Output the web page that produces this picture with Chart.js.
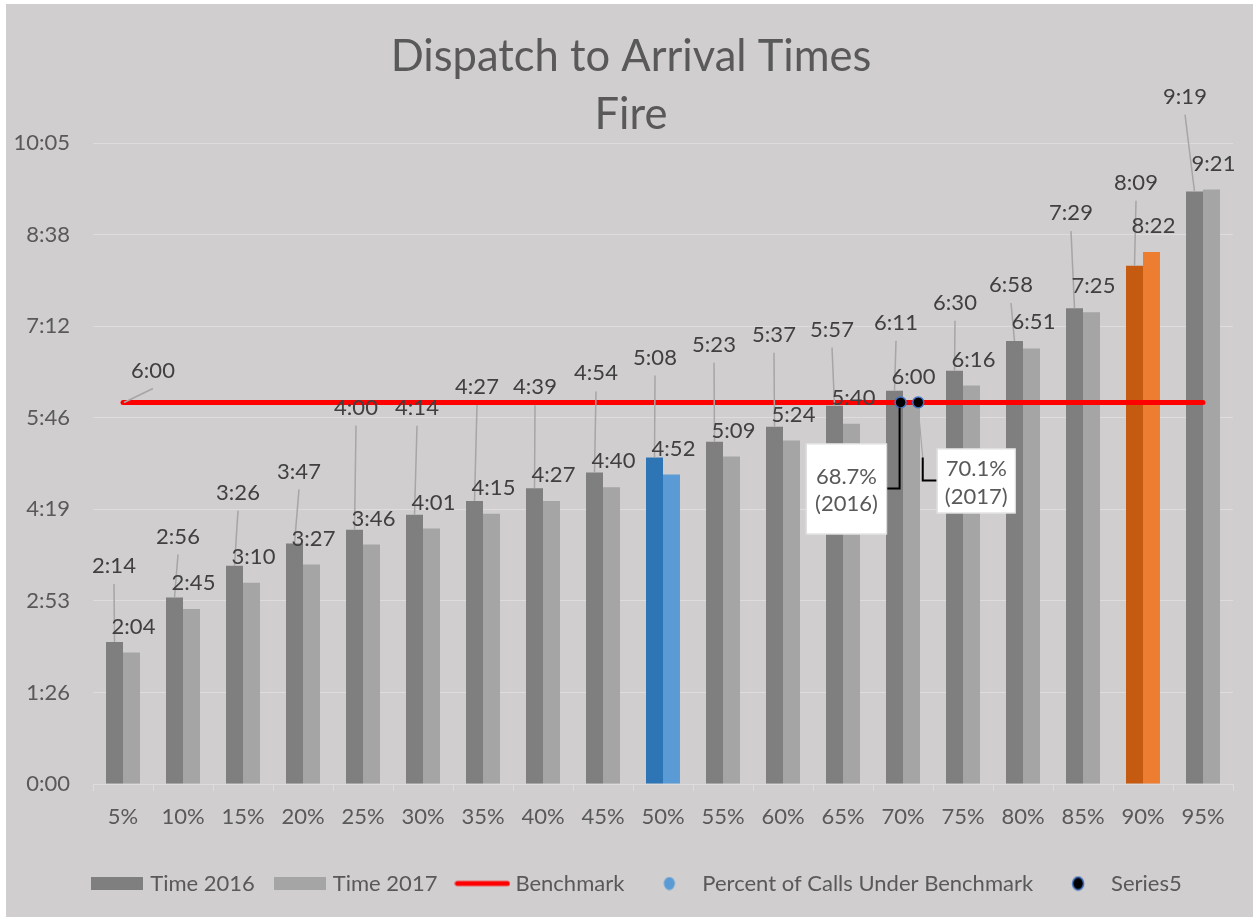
<!DOCTYPE html>
<html>
<head>
<meta charset="utf-8">
<script src="https://cdn.jsdelivr.net/npm/chart.js@4/dist/chart.umd.min.js"></script>
<style>
html,body{margin:0;padding:0;background:#ffffff;}
#wrap{width:1253px;height:917px;}
</style>
</head>
<body>
<div id="wrap"><canvas id="c" width="1253" height="917"></canvas></div>
<script>
// ---------- data ----------
const categories = ['5%','10%','15%','20%','25%','30%','35%','40%','45%','50%','55%','60%','65%','70%','75%','80%','85%','90%','95%'];
const time2016 = ['2:14','2:56','3:26','3:47','4:00','4:14','4:27','4:39','4:54','5:08','5:23','5:37','5:57','6:11','6:30','6:58','7:29','8:09','9:19'];
const time2017 = ['2:04','2:45','3:10','3:27','3:46','4:01','4:15','4:27','4:40','4:52','5:09','5:24','5:40','6:00','6:16','6:51','7:25','8:22','9:21'];
const benchmarkTime = '6:00';
const yTickLabels = ['0:00','1:26','2:53','4:19','5:46','7:12','8:38','10:05'];
const yStepSeconds = 86.4;            // 0.001 day
const pctUnderBenchmark = ['68.7%','70.1%'];
const pctYears = ['(2016)','(2017)'];
const series5X = [69.8, 71.27];       // position in percentile units (5% .. 95%)

// ---------- helpers ----------
const toSec = s => { const p = s.split(':').map(Number); return p[0]*60 + p[1]; };
const v2016 = time2016.map(toSec);
const v2017 = time2017.map(toSec);
const vBench = toSec(benchmarkTime);
// percentile -> fractional category index on the category axis
const pctToIndex = p => (p - parseFloat(categories[0])) / (parseFloat(categories[1]) - parseFloat(categories[0]));
const series5Points = series5X.map(p => ({ x: pctToIndex(p), y: vBench }));

const highlight = { '50%': ['#2e75b6', '#5b9bd5'], '90%': ['#c55a11', '#ed7d31'] };
const col2016 = categories.map(c => highlight[c] ? highlight[c][0] : '#7f7f7f');
const col2017 = categories.map(c => highlight[c] ? highlight[c][1] : '#a5a5a5');

// label placement (pixel offsets for the moved 2016 labels)
const lift16  = [76,61,73,72,122,107,114,101,99,100,97,92,76,68,68,56,95,83,95];
const shift16 = [-0.5,3.5,3.5,4.5,1.5,2.5,2.5,0.5,1.5,0.5,-0.5,-0.5,-2.5,1.5,0.5,-3.5,-3.5,1.5,-9.5];

const FONT = 'Lato';
const FS = 22;
const TXT = '#595959';

function mk(w, h, draw) { const c = document.createElement('canvas'); c.width = w; c.height = h; draw(c.getContext('2d')); return c; }
const legendImgs = [
  mk(52, 13, g => { g.fillStyle = '#7f7f7f'; g.fillRect(0, 0, 52, 13); }),
  mk(52, 13, g => { g.fillStyle = '#a5a5a5'; g.fillRect(0, 0, 52, 13); }),
  mk(56, 8, g => { g.strokeStyle = '#ff0000'; g.lineWidth = 5; g.lineCap = 'round'; g.beginPath(); g.moveTo(3, 4); g.lineTo(53, 4); g.stroke(); }),
  mk(14, 14, g => { g.fillStyle = '#5b9bd5'; g.beginPath(); g.ellipse(7, 7, 5.5, 6.5, 0, 0, Math.PI*2); g.fill(); }),
  mk(16, 16, g => { g.fillStyle = '#000'; g.strokeStyle = '#4472c4'; g.lineWidth = 1.5; g.beginPath(); g.ellipse(8, 8, 5.5, 6.5, 0, 0, Math.PI*2); g.fill(); g.stroke(); })
];
const legendNames = ['Time 2016','Time 2017','Benchmark','Percent of Calls Under Benchmark','Series5'];

const bgPlugin = {
  id: 'bg',
  afterLayout(chart) {
    // nudge the centred title and legend to sit like the reference
    if (chart.titleBlock) { chart.titleBlock.left += 14.5; chart.titleBlock.right += 14.5; }
    if (chart.legend) { chart.legend.left += 22; chart.legend.right += 22; }
  },
  beforeDraw(chart) {
    const { ctx, width, height } = chart;
    ctx.save();
    ctx.fillStyle = '#ffffff'; ctx.fillRect(0, 0, width, height);
    ctx.fillStyle = '#d0cece'; ctx.fillRect(6, 4, width - 6, height - 4);
    ctx.restore();
  }
};

const labelPlugin = {
  id: 'valueLabels',
  afterDatasetsDraw(chart) {
    const ctx = chart.ctx;
    const m16 = chart.getDatasetMeta(0).data;
    const m17 = chart.getDatasetMeta(1).data;
    ctx.save();
    ctx.strokeStyle = '#a6a6a6'; ctx.lineWidth = 1.5;
    m16.forEach((bar, i) => {
      const lx = bar.x + shift16[i], ly = bar.y - lift16[i];
      ctx.beginPath(); ctx.moveTo(lx, ly + 18); ctx.lineTo(bar.x, bar.y); ctx.stroke();
    });
    const b0 = chart.getDatasetMeta(2).data[0];
    ctx.beginPath(); ctx.moveTo(b0.x + 30, b0.y - 14); ctx.lineTo(b0.x + 1, b0.y); ctx.stroke();

    ctx.font = FS + 'px ' + FONT; ctx.textAlign = 'center'; ctx.textBaseline = 'middle';
    ctx.fillStyle = '#404040';
    m16.forEach((bar, i) => ctx.fillText(time2016[i], bar.x + shift16[i], bar.y - lift16[i]));
    m17.forEach((bar, i) => ctx.fillText(time2017[i], bar.x + 2, bar.y - 26));
    ctx.fillText(benchmarkTime, b0.x + 30, b0.y - 31.5);

    // callouts for Series5
    const pts = chart.getDatasetMeta(4).data;
    const p1 = pts[0], p2 = pts[1];
    const b1 = { x: p1.x - 13.5 - 81.3, y: p1.y + 41, w: 81.3, h: 91 };
    const b2 = { x: p2.x + 18.5, y: p2.y + 46, w: 79, h: 65 };
    ctx.strokeStyle = '#a6a6a6'; ctx.lineWidth = 1.2;
    ctx.beginPath(); ctx.moveTo(p2.x, p2.y + 6); ctx.lineTo(p2.x + 4.5, p2.y + 55); ctx.stroke();
    ctx.strokeStyle = '#000000'; ctx.lineWidth = 2;
    ctx.beginPath(); ctx.moveTo(p1.x - 1, p1.y + 5); ctx.lineTo(p1.x - 1, p1.y + 86); ctx.lineTo(b1.x + b1.w, p1.y + 86); ctx.stroke();
    ctx.beginPath(); ctx.moveTo(p2.x + 4.5, p2.y + 55); ctx.lineTo(p2.x + 4.5, p2.y + 78); ctx.lineTo(b2.x, p2.y + 78); ctx.stroke();
    [b1, b2].forEach(b => {
      ctx.fillStyle = '#ffffff'; ctx.fillRect(b.x, b.y, b.w, b.h);
      ctx.strokeStyle = '#d9d9d9'; ctx.lineWidth = 1; ctx.strokeRect(b.x + 0.5, b.y + 0.5, b.w - 1, b.h - 1);
    });
    ctx.fillStyle = TXT;
    ctx.fillText(pctUnderBenchmark[0], b1.x + b1.w/2, p1.y + 74);
    ctx.fillText(pctYears[0], b1.x + b1.w/2, p1.y + 101.5);
    ctx.fillText(pctUnderBenchmark[1], b2.x + b2.w/2, p2.y + 66.6);
    ctx.fillText(pctYears[1], b2.x + b2.w/2, p2.y + 94);
    ctx.restore();
  }
};

new Chart(document.getElementById('c'), {
  type: 'bar',
  data: {
    labels: categories,
    datasets: [
      { label: legendNames[0], data: v2016, backgroundColor: col2016, borderWidth: 0, order: 3,
        barPercentage: 1, categoryPercentage: 0.5665 },
      { label: legendNames[1], data: v2017, backgroundColor: col2017, borderWidth: 0, order: 3,
        barPercentage: 1, categoryPercentage: 0.5665 },
      { type: 'line', label: legendNames[2], data: categories.map(() => vBench), borderColor: '#ff0000',
        borderWidth: 5, borderCapStyle: 'round', pointRadius: 0, fill: false, order: 2 },
      { type: 'scatter', label: legendNames[3], parsing: false, order: 1,
        data: series5Points, pointRadius: 5, backgroundColor: '#5b9bd5', borderWidth: 0 },
      { type: 'scatter', label: legendNames[4], parsing: false, order: 0,
        data: series5Points, pointRadius: 5.5, backgroundColor: '#000000',
        borderColor: '#4472c4', borderWidth: 1.5 }
    ]
  },
  options: {
    responsive: false,
    animation: false,
    devicePixelRatio: 1,
    events: [],
    layout: { padding: { left: 0, right: 20, top: 0, bottom: 12.5 } },
    scales: {
      x: {
        type: 'category',
        offset: true,
        grid: { display: true, drawOnChartArea: false, drawTicks: true, tickLength: 7, color: '#dedcdc', offset: true },
        border: { display: true, color: '#dedcdc', width: 1 },
        ticks: { font: { family: FONT, size: FS }, color: TXT, padding: 13, maxRotation: 0, autoSkip: false },
        afterFit: s => { s.height = 65.5; }
      },
      y: {
        min: 0,
        max: yStepSeconds * (yTickLabels.length - 1),
        afterBuildTicks: s => { s.ticks = yTickLabels.map((_, i) => ({ value: i * yStepSeconds })); },
        grid: { color: '#dedcdc', lineWidth: 1, drawTicks: false },
        border: { display: false },
        ticks: { font: { family: FONT, size: FS }, color: TXT, padding: 23,
          callback: (v, i) => yTickLabels[i] },
        afterFit: s => { s.width = 93; }
      }
    },
    plugins: {
      title: {
        display: true,
        text: ['Dispatch to Arrival Times', 'Fire'],
        color: TXT,
        font: { family: FONT, size: 43.5, weight: 'normal', lineHeight: '58px' },
        padding: { top: 28, bottom: -1 }
      },
      legend: {
        position: 'bottom',
        labels: {
          usePointStyle: true,
          pointStyleWidth: 44,
          boxHeight: 13,
          padding: 23,
          color: TXT,
          font: { family: FONT, size: FS },
          generateLabels: () => legendNames.map((t, i) => ({
            text: t, pointStyle: legendImgs[i], fontColor: TXT, hidden: false,
            lineWidth: 0, strokeStyle: 'rgba(0,0,0,0)', fillStyle: 'rgba(0,0,0,0)', datasetIndex: i
          }))
        }
      },
      tooltip: { enabled: false }
    }
  },
  plugins: [bgPlugin, labelPlugin]
});
</script>
</body>
</html>
